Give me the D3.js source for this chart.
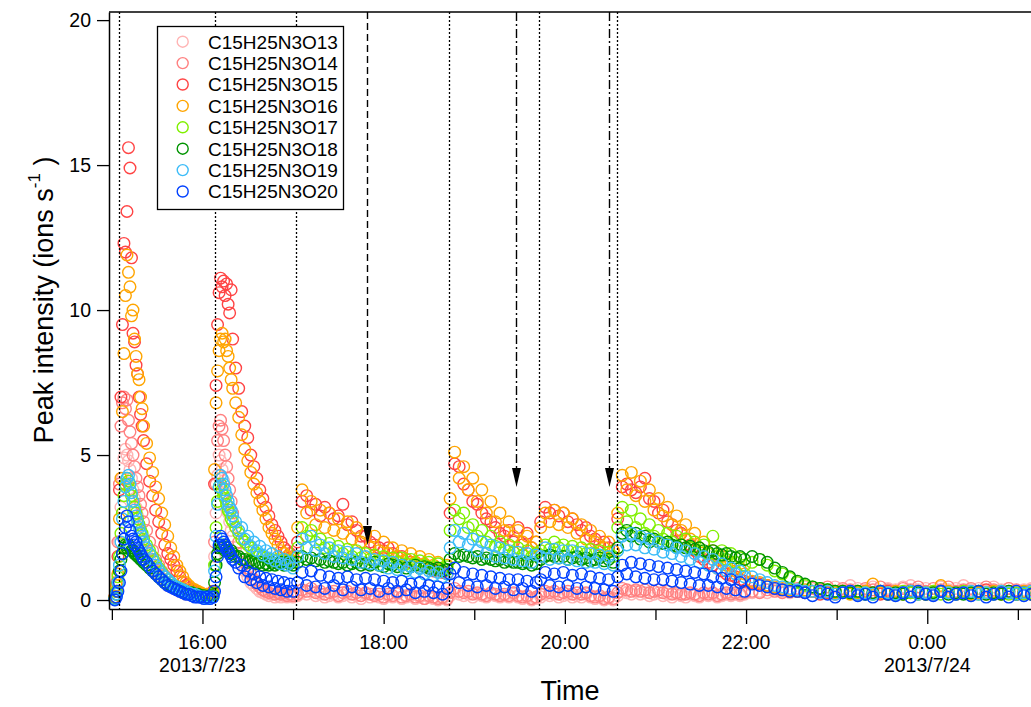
<!DOCTYPE html>
<html>
<head>
<meta charset="utf-8">
<script src="https://cdnjs.cloudflare.com/ajax/libs/d3/7.8.5/d3.min.js"></script>
<style>
  body { margin: 0; background: #fff; }
  svg { display: block; font-family: "Liberation Sans", Arial, sans-serif; }
</style>
</head>
<body>
<div id="chart"></div>
<script>
// minutes after 2013/7/23 15:00
var times = [
  2,3,4,5,6,7,8,9,10,11,12,13,14,15,16,17,18,19,20,21,
  23,25,27,29,31,33,35,37,39,41,43,45,47,49,51,53,55,57,59,61,63,65,67,
  68,69,70,71,72,73,74,75,76,77,78,79,80,
  82,84,86,88,90,92,94,96,98,100,102,104,106,108,110,112,114,116,118,120,
  123,126,129,132,135,138,141,144,147,150,153,156,159,162,165,168,171,174,177,180,183,186,189,192,195,198,201,204,207,210,213,216,219,222,
  224,227,230,233,236,239,242,245,248,251,254,257,260,263,266,269,272,275,278,281,
  284,287,290,293,296,299,302,305,308,311,314,317,320,323,326,329,332,
  335,338,341,344,347,350,353,356,359,362,365,368,371,374,377,380,383,386,389,392,395,398,401,404,407,410,413,416,419,
  424,429,434,439,444,449,454,459,464,469,474,479,484,489,494,499,504,509,514,519,524,529,534,539,544,549,554,559,564,569,574,579,584,589,594,599,604,609
];

var o13 = [
  0.05,0.3,0.9,2.0,3.2,4.2,4.9,5.2,5.0,4.8,4.5,4.2,3.8,3.5,3.2,2.9,2.6,2.4,2.2,2.0,
  1.7,1.4,1.2,1.0,0.9,0.75,0.6,0.5,0.45,0.4,0.35,0.3,0.25,0.2,0.2,0.15,0.2,0.15,0.1,0.15,0.1,0.15,0.2,
  1.5,3.0,4.3,5.0,4.8,4.5,4.1,3.7,3.3,3.0,2.7,2.4,2.2,
  1.8,1.5,1.2,1.0,0.8,0.6,0.5,0.4,0.3,0.25,0.2,0.15,0.2,0.1,0.15,0.1,0.15,0.1,0.15,0.1,
  0.15,0.25,0.2,0.3,0.15,0.2,0.1,0.15,0.2,0.1,0.15,0.2,0.1,0.15,0.05,0.2,0.1,0.15,0.1,0.05,0.15,0.1,0.2,0.05,0.1,0.15,0.05,0.1,0.05,0.1,0.05,0.0,0.05,0.0,
  0.15,0.25,0.2,0.15,0.2,0.1,0.2,0.15,0.1,0.2,0.15,0.1,0.15,0.1,0.2,0.1,0.05,0.1,0.0,0.05,
  0.1,0.2,0.15,0.2,0.1,0.15,0.2,0.1,0.15,0.1,0.2,0.1,0.05,0.1,0.0,0.05,0.0,
  0.15,0.3,0.25,0.2,0.3,0.2,0.25,0.15,0.2,0.25,0.15,0.2,0.1,0.2,0.15,0.1,0.2,0.15,0.1,0.2,0.15,0.2,0.1,0.15,0.2,0.15,0.2,0.15,0.2,
  0.25,0.3,0.25,0.35,0.3,0.25,0.35,0.45,0.3,0.4,0.3,0.45,0.35,0.5,0.4,0.35,0.45,0.3,0.4,0.35,0.45,0.5,0.35,0.4,0.3,0.45,0.35,0.4,0.5,0.35,0.4,0.3,0.45,0.35,0.4,0.3,0.35,0.4
];
var o14 = [
  0.1,0.6,2.0,4.0,6.0,6.8,7.0,6.6,6.9,6.2,5.8,5.4,5.0,4.6,4.2,3.9,3.6,3.3,3.0,2.7,
  2.4,2.0,1.7,1.4,1.2,1.0,0.85,0.7,0.6,0.5,0.45,0.4,0.35,0.3,0.3,0.25,0.2,0.25,0.2,0.15,0.2,0.15,0.2,
  2.0,4.0,5.5,6.0,6.2,5.9,5.5,5.0,4.6,4.2,3.8,3.4,3.0,
  2.5,2.0,1.6,1.3,1.1,0.9,0.7,0.55,0.45,0.35,0.3,0.25,0.3,0.2,0.25,0.2,0.25,0.15,0.2,0.15,
  0.2,0.35,0.3,0.4,0.25,0.3,0.2,0.25,0.3,0.15,0.25,0.3,0.2,0.25,0.15,0.25,0.2,0.15,0.2,0.1,0.2,0.15,0.25,0.1,0.15,0.2,0.1,0.15,0.05,0.15,0.1,0.05,0.1,0.05,
  0.25,0.4,0.3,0.25,0.3,0.2,0.25,0.2,0.15,0.25,0.2,0.15,0.2,0.15,0.25,0.15,0.1,0.15,0.05,0.1,
  0.2,0.3,0.25,0.3,0.2,0.25,0.3,0.2,0.25,0.2,0.25,0.15,0.1,0.15,0.05,0.1,0.05,
  0.25,0.4,0.35,0.3,0.35,0.3,0.35,0.25,0.3,0.35,0.25,0.3,0.2,0.25,0.2,0.2,0.25,0.2,0.15,0.25,0.2,0.25,0.15,0.2,0.25,0.2,0.25,0.2,0.25,
  0.3,0.25,0.35,0.3,0.25,0.3,0.4,0.3,0.4,0.35,0.45,0.3,0.4,0.35,0.3,0.4,0.35,0.45,0.35,0.3,0.4,0.35,0.45,0.3,0.4,0.35,0.45,0.3,0.35,0.4,0.3,0.45,0.35,0.3,0.4,0.35,0.3,0.35
];
var o15 = [
  0.1,0.3,1.5,3.8,7.0,9.5,12.3,12.0,13.4,15.6,14.9,11.8,9.2,8.9,8.1,7.8,7.0,6.4,6.0,5.5,
  4.7,4.1,3.6,3.1,2.7,2.3,1.9,1.6,1.4,1.2,1.0,0.8,0.6,0.5,0.4,0.35,0.3,0.25,0.2,0.2,0.15,0.2,0.3,
  4.0,7.4,9.5,10.6,11.1,10.8,11.0,10.5,10.9,10.2,9.9,10.7,9.0,
  8.0,7.3,6.5,6.0,5.6,5.0,4.6,4.2,3.8,3.5,3.2,2.9,2.6,2.4,2.2,2.0,1.8,1.7,1.6,1.5,
  2.0,3.4,3.6,3.1,3.3,2.9,3.2,3.0,2.8,2.9,3.3,2.6,2.7,2.4,2.2,2.2,2.0,1.9,1.8,1.7,1.8,1.6,1.5,1.5,1.4,1.3,1.3,1.2,1.2,1.1,1.0,1.05,0.95,0.9,
  3.0,4.7,4.6,4.0,3.8,3.4,3.3,3.0,2.8,2.7,2.5,2.3,2.2,2.4,2.0,2.5,1.9,2.3,1.8,2.0,
  2.7,3.2,3.0,3.1,2.9,3.0,2.7,2.8,2.6,2.4,2.5,2.2,2.1,1.9,2.0,1.8,1.7,
  2.8,3.9,4.0,3.8,3.7,3.9,4.2,3.5,3.4,3.0,3.1,2.7,2.6,2.4,2.3,2.1,1.9,1.7,1.5,1.4,1.3,1.2,1.1,1.0,0.9,0.85,0.8,0.7,0.65,
  0.6,0.55,0.5,0.4,0.35,0.3,0.3,0.25,0.3,0.2,0.25,0.2,0.3,0.25,0.2,0.3,0.25,0.2,0.3,0.2,0.25,0.3,0.2,0.25,0.2,0.3,0.25,0.2,0.3,0.2,0.25,0.35,0.2,0.25,0.3,0.2,0.25,0.2
];
var o16 = [
  0.1,0.5,0.9,2.8,4.2,6.5,8.5,10.5,11.9,11.3,10.8,9.8,10.0,9.0,8.4,7.8,7.6,7.0,6.6,6.0,
  5.4,4.9,4.4,3.9,3.5,3.0,2.6,2.2,1.8,1.5,1.2,1.0,0.8,0.6,0.5,0.4,0.35,0.3,0.25,0.2,0.2,0.15,0.25,
  4.5,6.8,7.9,8.6,9.0,9.2,8.9,9.0,8.6,8.4,8.0,7.6,7.3,
  6.8,6.3,5.7,5.2,4.8,4.4,4.0,3.7,3.4,3.1,2.8,2.5,2.3,2.1,1.9,1.7,1.6,1.5,1.4,1.3,
  2.5,3.8,3.0,3.4,2.6,3.1,2.5,3.0,2.4,2.8,2.3,2.7,2.1,2.5,2.0,2.3,1.8,2.2,1.7,2.0,1.6,1.8,1.5,1.7,1.4,1.6,1.3,1.5,1.25,1.4,1.2,1.3,1.1,1.2,
  3.5,5.1,4.2,4.6,3.8,4.2,3.4,3.8,3.0,3.4,2.7,3.0,2.4,2.7,2.2,2.4,2.0,2.2,1.8,2.0,
  2.5,3.0,2.7,3.1,2.6,3.0,2.5,2.8,2.3,2.6,2.1,2.4,2.0,2.2,1.8,2.0,1.7,
  3.0,4.3,3.8,4.4,3.6,4.1,3.4,3.8,3.1,3.5,2.9,3.2,2.6,2.9,2.4,2.6,2.1,2.3,1.8,2.0,1.6,1.7,1.4,1.5,1.2,1.3,1.0,1.1,0.9,
  0.65,0.6,0.5,0.45,0.4,0.35,0.3,0.35,0.3,0.25,0.3,0.25,0.3,0.2,0.25,0.3,0.55,0.25,0.2,0.3,0.2,0.25,0.3,0.2,0.25,0.5,0.3,0.2,0.25,0.2,0.25,0.2,0.3,0.2,0.25,0.2,0.3,0.2
];
var o17 = [
  0.05,0.3,0.8,1.5,2.3,3.0,3.6,4.0,4.2,4.1,3.8,3.6,3.4,3.2,3.0,2.8,2.6,2.4,2.3,2.1,
  1.9,1.7,1.5,1.3,1.1,0.95,0.8,0.7,0.6,0.5,0.45,0.4,0.35,0.3,0.25,0.25,0.2,0.2,0.15,0.15,0.1,0.15,0.2,
  1.2,2.5,3.4,3.9,4.0,3.8,3.6,3.5,3.3,3.1,3.0,2.8,2.7,
  2.5,2.3,2.1,2.0,1.9,1.8,1.7,1.6,1.55,1.5,1.45,1.4,1.4,1.35,1.4,1.35,1.4,1.3,1.35,1.3,
  1.8,2.5,2.2,2.4,2.0,2.1,1.8,1.95,1.7,1.85,1.6,1.75,1.5,1.7,1.45,1.6,1.4,1.55,1.35,1.5,1.35,1.45,1.3,1.45,1.25,1.4,1.25,1.35,1.2,1.3,1.15,1.25,1.1,1.15,
  2.4,3.1,2.8,3.0,2.5,2.6,2.2,2.4,2.0,2.2,1.85,2.0,1.75,1.9,1.65,1.8,1.55,1.7,1.5,1.6,
  1.7,1.9,1.75,2.0,1.8,1.9,1.7,1.85,1.65,1.8,1.6,1.75,1.6,1.7,1.55,1.65,1.5,
  2.5,3.2,2.7,3.1,2.5,2.8,2.3,2.6,2.2,2.4,2.1,2.3,2.0,2.2,1.9,2.1,1.8,2.0,1.7,1.9,1.6,2.2,1.5,1.7,1.4,1.6,1.3,1.45,1.2,
  1.3,1.4,1.2,1.0,0.9,0.75,0.6,0.5,0.45,0.4,0.35,0.3,0.3,0.25,0.3,0.25,0.2,0.3,0.25,0.2,0.3,0.25,0.2,0.25,0.3,0.2,0.25,0.2,0.3,0.25,0.2,0.25,0.2,0.3,0.2,0.25,0.2,0.25
];
var o18 = [
  0.05,0.2,0.6,1.0,1.4,1.6,1.8,1.9,1.8,1.9,1.8,1.7,1.7,1.6,1.6,1.5,1.5,1.4,1.4,1.3,
  1.2,1.1,1.0,0.9,0.8,0.7,0.6,0.55,0.5,0.45,0.4,0.35,0.3,0.3,0.25,0.25,0.2,0.2,0.15,0.15,0.1,0.15,0.15,
  0.6,1.2,1.6,1.8,1.9,1.8,1.9,1.7,1.8,1.7,1.6,1.7,1.6,
  1.5,1.5,1.4,1.4,1.3,1.35,1.3,1.25,1.3,1.2,1.25,1.2,1.3,1.2,1.25,1.3,1.2,1.3,1.25,1.2,
  1.3,1.5,1.4,1.45,1.35,1.4,1.3,1.35,1.3,1.25,1.3,1.2,1.25,1.3,1.2,1.25,1.2,1.3,1.2,1.15,1.25,1.2,1.15,1.2,1.1,1.15,1.2,1.1,1.15,1.1,1.05,1.1,1.0,1.05,
  1.4,1.6,1.5,1.55,1.5,1.45,1.5,1.4,1.45,1.4,1.35,1.4,1.3,1.35,1.3,1.3,1.25,1.3,1.2,1.25,
  1.4,1.5,1.55,1.5,1.45,1.5,1.4,1.45,1.5,1.4,1.45,1.35,1.4,1.45,1.35,1.4,1.3,
  1.8,2.3,2.4,2.2,2.3,2.1,2.2,2.0,2.1,2.0,1.95,2.0,1.9,1.85,1.9,1.8,1.85,1.75,1.8,1.7,1.65,1.7,1.6,1.55,1.6,1.5,1.45,1.5,1.4,
  1.5,1.4,1.3,1.1,0.95,0.8,0.65,0.55,0.45,0.4,0.35,0.3,0.3,0.25,0.3,0.2,0.25,0.3,0.2,0.25,0.2,0.3,0.25,0.2,0.25,0.3,0.2,0.25,0.2,0.25,0.3,0.2,0.25,0.2,0.3,0.2,0.25,0.2
];
var o19 = [
  0.05,0.2,0.6,1.2,2.0,2.8,3.4,3.9,4.2,4.3,4.0,3.7,3.4,3.1,2.9,2.7,2.5,2.3,2.2,2.0,
  1.8,1.6,1.4,1.2,1.05,0.9,0.8,0.7,0.6,0.5,0.45,0.4,0.35,0.3,0.25,0.2,0.2,0.15,0.1,0.1,0.05,0.1,0.1,
  1.0,2.2,3.3,3.9,4.3,4.2,4.0,3.8,3.6,3.4,3.2,3.1,2.9,
  2.7,2.4,2.5,2.1,2.2,1.85,2.0,1.7,1.85,1.55,1.7,1.45,1.6,1.35,1.5,1.25,1.4,1.2,1.3,1.1,
  1.5,2.1,1.8,2.2,1.7,1.9,1.6,1.8,1.5,1.7,1.45,1.65,1.4,1.6,1.3,1.5,1.25,1.4,1.2,1.35,1.1,1.3,1.05,1.2,1.0,1.15,0.95,1.1,0.9,1.0,0.85,0.95,0.8,0.9,
  1.8,2.4,2.0,2.3,1.9,2.1,1.7,2.0,1.6,1.9,1.5,1.8,1.45,1.7,1.4,1.65,1.35,1.6,1.3,1.55,
  1.5,1.8,1.4,1.75,1.45,1.7,1.4,1.7,1.35,1.65,1.3,1.6,1.3,1.55,1.25,1.5,1.2,
  1.7,2.2,1.9,2.3,1.9,2.2,1.8,2.1,1.75,2.0,1.65,1.9,1.6,1.8,1.5,1.7,1.4,1.6,1.3,1.5,1.2,1.4,1.1,1.25,1.0,1.1,0.9,1.0,0.8,
  0.8,0.7,0.6,0.5,0.45,0.4,0.35,0.3,0.3,0.25,0.3,0.2,0.25,0.3,0.2,0.25,0.2,0.3,0.25,0.2,0.25,0.3,0.2,0.25,0.2,0.3,0.25,0.2,0.25,0.3,0.2,0.25,0.2,0.3,0.25,0.2,0.25,0.3
];
var o20 = [
  0.0,0.1,0.3,0.6,1.0,1.6,2.1,2.5,2.9,2.7,2.4,2.2,2.1,1.9,2.0,1.8,1.7,1.6,1.5,1.4,
  1.3,1.15,1.0,0.9,0.8,0.7,0.6,0.5,0.45,0.4,0.35,0.3,0.25,0.2,0.2,0.15,0.1,0.1,0.1,0.05,0.1,0.05,0.1,
  0.3,0.8,1.5,1.9,2.2,2.1,2.0,1.9,1.8,1.7,1.6,1.5,1.4,
  1.3,1.1,1.2,0.8,1.0,0.7,0.9,0.6,0.8,0.5,0.75,0.45,0.7,0.4,0.65,0.35,0.6,0.3,0.55,0.3,
  0.6,0.95,0.5,1.0,0.45,0.85,0.4,0.8,0.5,0.75,0.35,0.8,0.45,0.7,0.35,0.75,0.4,0.7,0.3,0.65,0.4,0.6,0.3,0.65,0.35,0.55,0.25,0.6,0.3,0.5,0.25,0.45,0.2,0.4,
  0.9,1.1,0.6,0.95,0.5,0.9,0.45,0.85,0.5,0.8,0.4,0.75,0.45,0.7,0.35,0.7,0.4,0.65,0.3,0.6,
  0.7,0.95,0.5,0.9,0.45,0.95,0.5,0.85,0.4,0.9,0.45,0.8,0.4,0.75,0.35,0.7,0.3,
  0.8,1.2,0.9,1.3,0.8,1.25,0.75,1.2,0.7,1.15,0.7,1.1,0.65,1.05,0.6,1.0,0.55,0.95,0.5,0.9,0.5,0.8,0.45,0.75,0.4,0.7,0.35,0.6,0.3,
  0.55,0.5,0.45,0.4,0.35,0.3,0.3,0.25,0.15,0.3,0.2,0.1,0.25,0.3,0.15,0.2,0.1,0.3,0.2,0.15,0.25,0.1,0.3,0.2,0.15,0.3,0.1,0.2,0.25,0.15,0.3,0.1,0.2,0.25,0.1,0.3,0.15,0.2
];

var seriesNames = ["C15H25N3O13","C15H25N3O14","C15H25N3O15","C15H25N3O16",
                   "C15H25N3O17","C15H25N3O18","C15H25N3O19","C15H25N3O20"];
var seriesColors = ["#ffb4b4","#ff8080","#ff4444","#ffa500","#80f000","#009400","#3cbcf8","#0040ff"];
var seriesValues = [o13, o14, o15, o16, o17, o18, o19, o20];

// event markers (minutes after 15:00)
var dottedTimes = [4.7, 68.3, 121.9, 223.2, 282.8, 334.5];
var arrowTimes = [168.9, 267.6, 329.2];
var arrowTips = [1.9, 3.9, 3.9];
var arrowDash = ["7,4", "9,3,2,3", "9,3,2,3"];

var yTicks = [0, 5, 10, 15, 20];

var W = 1031, H = 707;
var pLeft = 109, pRight = 1031, pTop = 12, pBottom = 609;
var base = new Date(2013, 6, 23, 15, 0, 0);
function toDate(m) { return new Date(base.getTime() + m * 60000); }

var svg = d3.select("#chart").append("svg")
    .attr("width", W)
    .attr("height", H);

var x = d3.scaleTime()
    .domain([toDate(-1.9), toDate(608.7)])
    .range([pLeft, pRight]);
var y = d3.scaleLinear()
    .domain([-0.31, 20.28])
    .range([pBottom, pTop]);

// data
seriesValues.forEach(function (vals, s) {
    svg.append("g")
        .selectAll("circle")
        .data(vals)
        .enter()
        .append("circle")
        .attr("cx", function (d, i) { return x(toDate(times[i])); })
        .attr("cy", function (d) { return y(d); })
        .attr("r", 5.8)
        .attr("fill", "none")
        .attr("stroke", seriesColors[s])
        .attr("stroke-width", 1.4);
});

// dotted event lines
svg.append("g").selectAll("line")
    .data(dottedTimes)
    .enter()
    .append("line")
    .attr("x1", function (d) { return Math.round(x(toDate(d))) + 0.5; })
    .attr("x2", function (d) { return Math.round(x(toDate(d))) + 0.5; })
    .attr("y1", pTop)
    .attr("y2", pBottom)
    .attr("stroke", "#000")
    .attr("stroke-width", 1.3)
    .attr("stroke-dasharray", "2,2");

// arrows
var arrows = svg.append("g").selectAll("g")
    .data(arrowTimes)
    .enter()
    .append("g");
arrows.append("line")
    .attr("x1", function (d) { return Math.round(x(toDate(d))) + 0.5; })
    .attr("x2", function (d) { return Math.round(x(toDate(d))) + 0.5; })
    .attr("y1", pTop)
    .attr("y2", function (d, i) { return y(arrowTips[i]) - 18; })
    .attr("stroke", "#000")
    .attr("stroke-width", 1.4)
    .attr("stroke-dasharray", function (d, i) { return arrowDash[i]; });
arrows.append("path")
    .attr("d", function (d, i) {
        var cx = Math.round(x(toDate(d))) + 0.5, ty = y(arrowTips[i]);
        return "M" + (cx - 4.5) + "," + (ty - 19) + "L" + (cx + 4.5) + "," + (ty - 19) + "L" + cx + "," + ty + "Z";
    })
    .attr("fill", "#000");

// axes
var xAxis = svg.append("g")
    .attr("transform", "translate(0," + pBottom + ")")
    .call(d3.axisBottom(x)
        .ticks(d3.timeHour.every(1))
        .tickSize(11)
        .tickSizeOuter(0)
        .tickFormat(""));
xAxis.select(".domain").attr("stroke-width", 1.5);
xAxis.selectAll(".tick line")
    .attr("stroke-width", 1.3)
    .attr("y2", function (d) { return d.getHours() % 2 === 0 ? 15 : 11; });

var labelTicks = x.ticks(d3.timeHour.every(1)).filter(function (d) { return d.getHours() % 2 === 0; });
svg.append("g").selectAll("text")
    .data(labelTicks)
    .enter()
    .append("text")
    .attr("x", function (d) { return x(d); })
    .attr("y", 649)
    .attr("text-anchor", "middle")
    .attr("font-size", 19.5)
    .text(function (d) { return d.getHours() + ":00"; });
svg.append("g").selectAll("text")
    .data(labelTicks.filter(function (d) { return d.getHours() === 16 || d.getHours() === 0; }))
    .enter()
    .append("text")
    .attr("x", function (d) { return x(d); })
    .attr("y", 672)
    .attr("text-anchor", "middle")
    .attr("font-size", 19.5)
    .text(function (d) { return d3.timeFormat("%Y/%-m/%-d")(d); });

var yAxis = svg.append("g")
    .attr("transform", "translate(" + pLeft + ",0)")
    .call(d3.axisLeft(y)
        .tickValues(yTicks)
        .tickSize(12)
        .tickSizeOuter(0)
        .tickPadding(6));
yAxis.select(".domain").attr("stroke-width", 1.5);
yAxis.selectAll(".tick line").attr("stroke-width", 1.3);
yAxis.selectAll(".tick text").attr("font-size", 19.5).attr("fill", "#000")
    .attr("font-family", "'Liberation Sans', Arial, sans-serif");

// top frame line
svg.append("line")
    .attr("x1", pLeft).attr("x2", W)
    .attr("y1", pTop).attr("y2", pTop)
    .attr("stroke", "#000")
    .attr("stroke-width", 1.5);

// axis titles
svg.append("text")
    .attr("x", (pLeft + pRight) / 2)
    .attr("y", 700)
    .attr("text-anchor", "middle")
    .attr("font-size", 27)
    .text("Time");

var yt = svg.append("text")
    .attr("transform", "translate(53,300) rotate(-90)")
    .attr("text-anchor", "middle")
    .attr("font-size", 27);
yt.append("tspan").text("Peak intensity (ions s");
yt.append("tspan").attr("font-size", 17).attr("dy", -13).text("-1");
yt.append("tspan").attr("dy", 13).text(" )");

// legend
var lg = svg.append("g");
lg.append("rect")
    .attr("x", 157.5).attr("y", 26.5)
    .attr("width", 186).attr("height", 183)
    .attr("fill", "#fff")
    .attr("stroke", "#000")
    .attr("stroke-width", 1.3);
var rows = lg.selectAll("g.row")
    .data(seriesNames)
    .enter()
    .append("g")
    .attr("class", "row")
    .attr("transform", function (d, i) { return "translate(0," + (41.7 + i * 21.4) + ")"; });
rows.append("circle")
    .attr("cx", 182.7)
    .attr("cy", 0)
    .attr("r", 5.5)
    .attr("fill", "none")
    .attr("stroke", function (d, i) { return seriesColors[i]; })
    .attr("stroke-width", 1.4);
rows.append("text")
    .attr("x", 208)
    .attr("y", 6.8)
    .attr("font-size", 19)
    .text(function (d) { return d; });
</script>
</body>
</html>
